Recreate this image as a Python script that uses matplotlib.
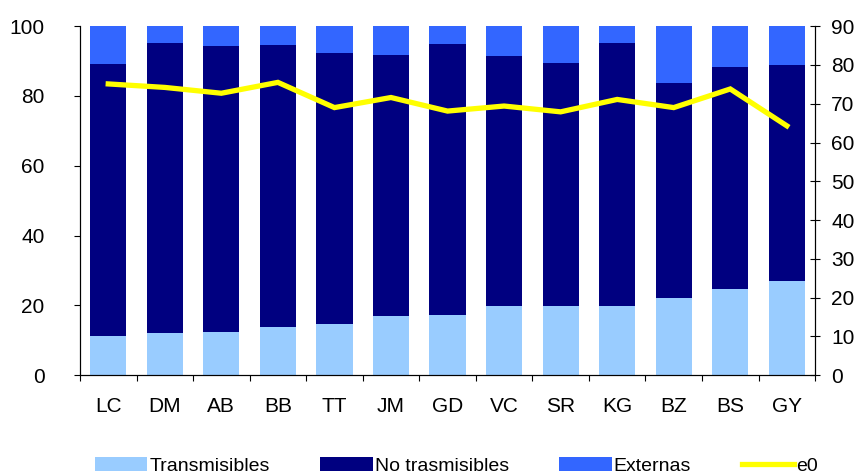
import numpy as np
import matplotlib.pyplot as plt
import matplotlib

paises = ['LC', 'DM', 'AB', 'BB', 'TT', 'JM', 'GD', 'VC', 'SR', 'KG', 'BZ', 'BS', 'GY']
transmisibles = [11.3, 12.2, 12.4, 13.8, 14.7, 17.0, 17.3, 19.9, 19.9, 19.9, 22.2, 24.7, 27.0]
no_trasmisibles = [77.9, 83.0, 82.0, 80.8, 77.7, 74.8, 77.6, 71.6, 69.6, 75.3, 61.6, 63.6, 61.9]
externas = [10.8, 4.8, 5.6, 5.4, 7.6, 8.2, 5.1, 8.5, 10.5, 4.8, 16.2, 11.7, 11.1]
e0 = [75.1, 74.2, 72.7, 75.5, 69.0, 71.6, 68.1, 69.4, 67.9, 71.1, 69.0, 73.8, 64.3]

Size = 15
matplotlib.rcParams['font.family'] = ['Liberation Sans', 'DejaVu Sans']
matplotlib.rc('xtick', labelsize=Size)
matplotlib.rc('ytick', labelsize=Size)

fig = plt.figure(figsize=(8.58, 4.75), dpi=100)
ax = fig.add_axes([0.0932, 0.21, 0.8568, 0.735])

x = np.arange(len(paises))
w = 0.64
t = np.array(transmisibles)
n = np.array(no_trasmisibles)
e = np.array(externas)
b1 = ax.bar(x, t, w, color='#99CCFF', label='Transmisibles')
b2 = ax.bar(x, n, w, bottom=t, color='#000080', label='No trasmisibles')
b3 = ax.bar(x, e, w, bottom=t + n, color='#3366FF', label='Externas')

ax.set_xlim(-0.5, len(paises) - 0.5)
ax.set_ylim(0, 100)
ax.set_yticks(np.arange(0, 101, 20))
ax.tick_params(axis='y', direction='out', length=4.5, width=0.8, pad=21)
# etiquetas en el centro, marcas entre categorías
ax.set_xticks(x)
ax.set_xticklabels(paises)
ax.tick_params(axis='x', which='major', length=0, pad=16)
ax.set_xticks(np.arange(-0.5, len(paises), 1), minor=True)
ax.tick_params(axis='x', which='minor', direction='out', length=4.5, width=0.8)
ax.spines['top'].set_visible(False)
for s in ['left', 'bottom', 'right']:
    ax.spines[s].set_linewidth(0.8)

ax2 = ax.twinx()
l1, = ax2.plot(x, e0, color='#FFFF00', lw=3.8, solid_joinstyle='miter', label='e0')
ax2.set_ylim(0, 90)
ax2.set_yticks(np.arange(0, 91, 10))
ax2.tick_params(axis='y', direction='inout', length=7, width=0.8, pad=8)
ax2.spines['top'].set_visible(False)
ax2.spines['right'].set_linewidth(0.8)

fig.legend(handles=[b1, b2, b3, l1], loc='center', bbox_to_anchor=(0.532, 0.019),
           ncol=4, frameon=False, fontsize=14, handlelength=2.7, handleheight=0.7,
           handletextpad=0.1, columnspacing=2.6, borderaxespad=0)

plt.savefig('out.png', dpi=100)
